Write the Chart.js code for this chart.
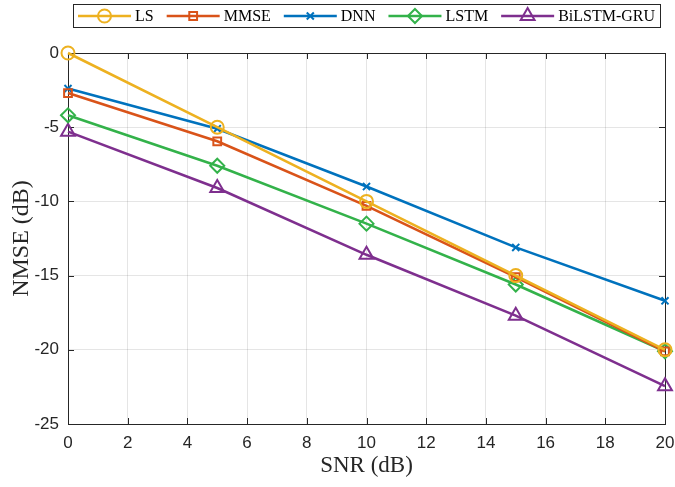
<!DOCTYPE html>
<html>
<head>
<meta charset="utf-8">
<script src="https://cdn.jsdelivr.net/npm/chart.js@4.4.0/dist/chart.umd.min.js"></script>
<style>
html,body{margin:0;padding:0;background:#fff;}
#wrap{width:675px;height:487px;position:relative;}
</style>
</head>
<body>
<div id="wrap"><canvas id="c" width="675" height="487"></canvas></div>
<script>
// ---- data ----
const snr = [0, 5, 10, 15, 20];
const seriesNames = ['LS', 'MMSE', 'DNN', 'LSTM', 'BiLSTM-GRU'];
const lsVals = [0, -5.0, -10.0, -15.0, -20.0];
const mmseVals = [-2.7, -5.95, -10.3, -15.1, -20.1];
const dnnVals = [-2.4, -5.1, -9.0, -13.1, -16.7];
const lstmVals = [-4.2, -7.6, -11.5, -15.6, -20.1];
const bilstmVals = [-5.3, -9.1, -13.6, -17.7, -22.45];
const xTicks = [0, 2, 4, 6, 8, 10, 12, 14, 16, 18, 20];
const yTicks = [-25, -20, -15, -10, -5, 0];

const colors = ['#EDB120', '#D95319', '#0072BD', '#33B24A', '#7E2F8E'];
const styles = ['circle', 'rect', 'crossRot', 'rectRot', 'triangle'];
const radii = [6.5, 5.5, 5, 7, 8];
const allVals = [lsVals, mmseVals, dnnVals, lstmVals, bilstmVals];

const datasets = allVals.map((vals, i) => ({
  label: seriesNames[i],
  data: vals.map((v, k) => ({x: snr[k], y: v})),
  borderColor: colors[i],
  backgroundColor: colors[i],
  pointBackgroundColor: 'rgba(255,255,255,0)',
  pointBorderColor: colors[i],
  pointBorderWidth: 2,
  pointStyle: styles[i],
  pointRadius: radii[i],
  pointHoverRadius: radii[i],
  borderWidth: 2.6,
  tension: 0,
  clip: false
}));

const AREA = {left: 68, right: 667, top: 53, bottom: 424};

const matlabAxes = {
  id: 'matlabAxes',
  beforeDatasetsDraw(chart) {
    const ctx = chart.ctx;
    const {left, right, top, bottom} = chart.chartArea;
    const xs = chart.scales.x, ys = chart.scales.y;
    ctx.save();
    ctx.strokeStyle = '#262626';
    ctx.lineWidth = 1;
    const tl = 6;
    ctx.beginPath();
    xTicks.forEach(t => {
      const px = Math.round(xs.getPixelForValue(t)) + 0.5;
      ctx.moveTo(px, bottom); ctx.lineTo(px, bottom - tl);
      ctx.moveTo(px, top); ctx.lineTo(px, top + tl);
    });
    yTicks.forEach(t => {
      const py = Math.round(ys.getPixelForValue(t)) + 0.5;
      ctx.moveTo(left, py); ctx.lineTo(left + tl, py);
      ctx.moveTo(right, py); ctx.lineTo(right - tl, py);
    });
    ctx.stroke();
    ctx.strokeRect(Math.round(left) + 0.5, Math.round(top) + 0.5, Math.round(right - left), Math.round(bottom - top));
    ctx.restore();
  },
  afterDraw(chart) {
    const ctx = chart.ctx;
    ctx.save();
    ctx.font = '16px "Liberation Serif", "Times New Roman", serif';
    const lineLen = 53, gapA = 4, gapB = 13, padL = 5, padR = 5;
    const items = chart.data.datasets.map(ds => ({ds, w: ctx.measureText(ds.label).width}));
    let total = padL + padR;
    items.forEach((it, i) => { total += lineLen + gapA + it.w + (i < items.length - 1 ? gapB : 0); });
    const {left, right} = chart.chartArea;
    const bx = Math.round((left + right) / 2 - total / 2);
    const by = 4, bh = 23;
    ctx.fillStyle = '#fff';
    ctx.fillRect(bx, by, total, bh);
    ctx.strokeStyle = '#262626';
    ctx.lineWidth = 1;
    ctx.strokeRect(bx + 0.5, by + 0.5, Math.round(total), bh);
    let x = bx + padL;
    const cy = by + bh / 2 + 0.5;
    items.forEach((it) => {
      const ds = it.ds;
      ctx.strokeStyle = ds.borderColor;
      ctx.lineWidth = ds.borderWidth;
      ctx.beginPath();
      ctx.moveTo(x, cy); ctx.lineTo(x + lineLen, cy);
      ctx.stroke();
      ctx.fillStyle = 'rgba(255,255,255,0)';
      ctx.strokeStyle = ds.pointBorderColor;
      ctx.lineWidth = ds.pointBorderWidth;
      Chart.helpers.drawPoint(ctx, {
        pointStyle: ds.pointStyle, radius: ds.pointRadius, rotation: 0,
        borderWidth: ds.pointBorderWidth
      }, x + lineLen / 2, cy);
      x += lineLen + gapA;
      ctx.fillStyle = '#000';
      ctx.textBaseline = 'middle';
      ctx.textAlign = 'left';
      ctx.fillText(ds.label, x, cy + 1);
      x += it.w + gapB;
    });
    ctx.restore();
  }
};

Chart.defaults.font.family = '"Liberation Sans", Arial, sans-serif';

new Chart(document.getElementById('c'), {
  type: 'line',
  data: {datasets},
  options: {
    responsive: false,
    animation: false,
    events: [],
    layout: {padding: {left: 0, right: 675 - AREA.right, top: AREA.top, bottom: 0}},
    plugins: {legend: {display: false}, tooltip: {enabled: false}, title: {display: false}},
    scales: {
      x: {
        type: 'linear', min: 0, max: 20,
        afterBuildTicks: s => { s.ticks = xTicks.map(v => ({value: v})); },
        afterFit: s => { s.height = 487 - AREA.bottom; s.paddingLeft = 0; s.paddingRight = 0; },
        grid: {color: 'rgba(0,0,0,0.1)', drawTicks: false, lineWidth: 1},
        border: {display: false},
        ticks: {color: '#262626', font: {size: 17}, padding: 9, maxRotation: 0, autoSkip: false},
        title: {display: true, text: 'SNR (dB)', color: '#262626',
          font: {family: '"Liberation Serif", "Times New Roman", serif', size: 23}, padding: {top: 0, bottom: 7}}
      },
      y: {
        type: 'linear', min: -25, max: 0,
        afterBuildTicks: s => { s.ticks = yTicks.map(v => ({value: v})); },
        afterFit: s => { s.width = AREA.left; s.paddingTop = 0; s.paddingBottom = 0; },
        grid: {color: 'rgba(0,0,0,0.1)', drawTicks: false, lineWidth: 1},
        border: {display: false},
        ticks: {color: '#262626', font: {size: 17}, padding: 9, autoSkip: false},
        title: {display: true, text: 'NMSE (dB)', color: '#262626',
          font: {family: '"Liberation Serif", "Times New Roman", serif', size: 24}, padding: {top: 7, bottom: 0}}
      }
    }
  },
  plugins: [matlabAxes]
});
</script>
</body>
</html>
